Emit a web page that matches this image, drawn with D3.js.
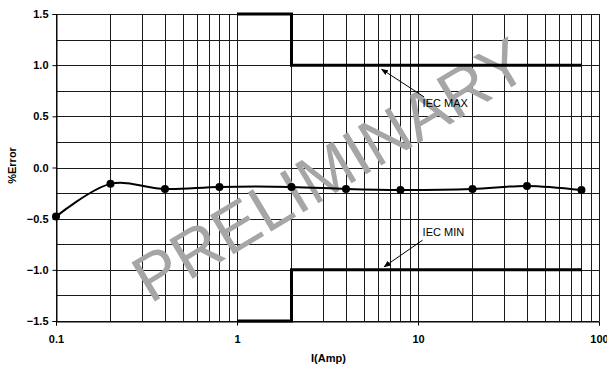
<!DOCTYPE html>
<html>
<head>
<meta charset="utf-8">
<script src="https://cdn.jsdelivr.net/npm/d3@7"></script>
<style>
  body { margin: 0; background: #fff; }
  text { font-family: "Liberation Sans", Arial, sans-serif; }
</style>
</head>
<body>
<div id="chart"></div>
<script>
// data
var currents = [0.1, 0.2, 0.4, 0.8, 2, 4, 8, 20, 40, 80];
var errors = [-0.48, -0.16, -0.21, -0.19, -0.19, -0.21, -0.22, -0.21, -0.18, -0.22];

var iecMaxX = [1, 2, 2, 80];
var iecMaxY = [1.5, 1.5, 1.0, 1.0];
var iecMinX = [1, 2, 2, 80];
var iecMinY = [-1.5, -1.5, -1.0, -1.0];

var yTicks = [1.5, 1.0, 0.5, 0.0, -0.5, -1.0, -1.5];
var xTicks = [0.1, 1, 10, 100];

var svgWidth = 607;
var svgHeight = 367;

var margin = { top: 14, right: 8, bottom: 46, left: 56 };
var chartWidth = svgWidth - margin.left - margin.right;
var chartHeight = svgHeight - margin.top - margin.bottom;

var svg = d3.select('#chart')
    .append('svg')
    .attr('width', svgWidth)
    .attr('height', svgHeight);

var chartGroup = svg.append('g')
    .attr('transform', `translate(${margin.left}, ${margin.top})`);

var xScale = d3.scaleLog()
    .domain([0.1, 100])
    .range([0, chartWidth]);

var yScale = d3.scaleLinear()
    .domain([-1.5, 1.5])
    .range([chartHeight, 0]);

// grid lines
var vGrid = [];
[0.1, 1, 10].forEach(function(dec) {
    for (var k = 1; k <= 9; k++) vGrid.push(dec * k);
});
vGrid.push(100);
var hGrid = d3.range(-1.5, 1.5001, 0.25);

chartGroup.selectAll('.vgrid')
    .data(vGrid)
    .enter()
    .append('line')
    .attr('x1', d => Math.round(xScale(d)) + 0.5)
    .attr('x2', d => Math.round(xScale(d)) + 0.5)
    .attr('y1', 0)
    .attr('y2', chartHeight)
    .attr('stroke', '#1a1a1a')
    .attr('stroke-width', 1);

chartGroup.selectAll('.hgrid')
    .data(hGrid)
    .enter()
    .append('line')
    .attr('x1', 0)
    .attr('x2', chartWidth)
    .attr('y1', d => Math.round(yScale(d)) + 0.5)
    .attr('y2', d => Math.round(yScale(d)) + 0.5)
    .attr('stroke', '#1a1a1a')
    .attr('stroke-width', 1);

// watermark
chartGroup.append('text')
    .attr('transform', `translate(${xScale(3.25)}, ${yScale(-0.02)}) rotate(-31)`)
    .attr('text-anchor', 'middle')
    .attr('dominant-baseline', 'central')
    .attr('font-size', '66px')
    .attr('fill', '#a6a6a6')
    .text('PRELIMINARY');

// axes
var xAxis = d3.axisBottom(xScale).tickValues(xTicks).tickSize(4).tickFormat(d => String(d));
var yAxis = d3.axisLeft(yScale).tickValues(yTicks).tickSize(4).tickFormat(d3.format('.1f'));

var gx = chartGroup.append('g')
    .attr('transform', `translate(0, ${chartHeight + 0.5})`)
    .call(xAxis);
var gy = chartGroup.append('g')
    .attr('transform', 'translate(0.5, 0)')
    .call(yAxis);

[gx, gy].forEach(function(g) {
    g.select('.domain').attr('stroke', '#000');
    g.selectAll('.tick line').attr('stroke', '#000');
    g.selectAll('.tick text')
        .attr('font-size', '11px')
        .attr('font-weight', 'bold')
        .attr('fill', '#000')
        .style('font-family', '"Liberation Sans", Arial, sans-serif');
});
gx.selectAll('.tick text').attr('dy', '1.3em');
gy.selectAll('.tick text').attr('x', -8);

// limit lines
var stepLine = d3.line()
    .x(d => xScale(d[0]))
    .y(d => yScale(d[1]));

chartGroup.append('path')
    .datum(d3.zip(iecMaxX, iecMaxY))
    .attr('d', stepLine)
    .attr('fill', 'none')
    .attr('stroke', '#000')
    .attr('stroke-width', 3);

chartGroup.append('path')
    .datum(d3.zip(iecMinX, iecMinY))
    .attr('d', stepLine)
    .attr('fill', 'none')
    .attr('stroke', '#000')
    .attr('stroke-width', 3);

// measured error
var errLine = d3.line()
    .x(d => xScale(d[0]))
    .y(d => yScale(d[1]))
    .curve(d3.curveCatmullRom.alpha(0.5));

chartGroup.append('path')
    .datum(d3.zip(currents, errors))
    .attr('d', errLine)
    .attr('fill', 'none')
    .attr('stroke', '#000')
    .attr('stroke-width', 2);

chartGroup.selectAll('.pt')
    .data(d3.zip(currents, errors))
    .enter()
    .append('circle')
    .attr('cx', d => xScale(d[0]))
    .attr('cy', d => yScale(d[1]))
    .attr('r', 4)
    .attr('fill', '#000');

// annotations
var defs = svg.append('defs');
defs.append('marker')
    .attr('id', 'arrow')
    .attr('viewBox', '0 0 10 10')
    .attr('refX', 9)
    .attr('refY', 5)
    .attr('markerWidth', 7)
    .attr('markerHeight', 7)
    .attr('markerUnits', 'userSpaceOnUse')
    .attr('orient', 'auto')
    .append('path')
    .attr('d', 'M0,1 L10,5 L0,9 Z')
    .attr('fill', '#000');

chartGroup.append('line')
    .attr('x1', xScale(10.8)).attr('y1', yScale(0.69))
    .attr('x2', xScale(6.3)).attr('y2', yScale(0.96))
    .attr('stroke', '#000')
    .attr('marker-end', 'url(#arrow)');

chartGroup.append('text')
    .attr('x', xScale(10.6))
    .attr('y', yScale(0.59))
    .attr('font-size', '11px')
    .text('IEC MAX');

chartGroup.append('line')
    .attr('x1', xScale(10.6)).attr('y1', yScale(-0.71))
    .attr('x2', xScale(6.5)).attr('y2', yScale(-0.97))
    .attr('stroke', '#000')
    .attr('marker-end', 'url(#arrow)');

chartGroup.append('text')
    .attr('x', xScale(10.6))
    .attr('y', yScale(-0.67))
    .attr('font-size', '11px')
    .text('IEC MIN');

// axis titles
svg.append('text')
    .attr('x', margin.left + xScale(3.2))
    .attr('y', 362)
    .attr('text-anchor', 'middle')
    .attr('font-size', '11px')
    .attr('font-weight', 'bold')
    .text('I(Amp)');

svg.append('text')
    .attr('transform', `translate(16, ${margin.top + yScale(0.02)}) rotate(-90)`)
    .attr('text-anchor', 'middle')
    .attr('font-size', '11px')
    .attr('font-weight', 'bold')
    .text('%Error');
</script>
</body>
</html>
